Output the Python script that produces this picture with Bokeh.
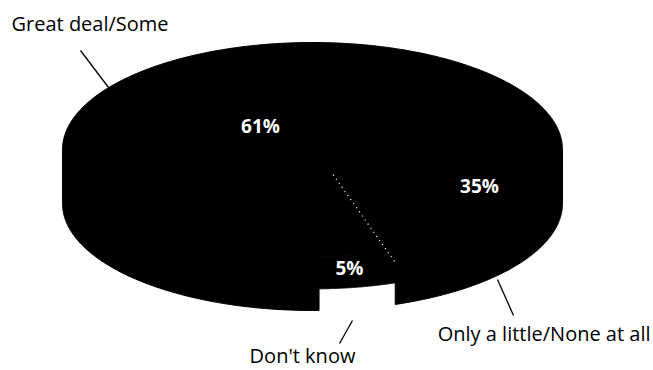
import numpy as np
from bokeh.plotting import figure
from bokeh.models import Range1d
from bokeh.core.properties import value
from bokeh.embed import file_html
from bokeh.resources import INLINE

categories = ["Great deal/Some", "Only a little/None at all", "Don't know"]
values = [61, 35, 5]
pct_labels = ["61%", "35%", "5%"]

# layout (3-D pie: top face ellipse + front wall)
W, H = 653, 370
cx, cy, rx, ry = 312, 149, 250, 107
depth = 54
wall_frac = [1.0, 1.0, 0.6]
start_deg = -88.5     # start of "Don't know" wedge, counter-clockwise
FONT = "Open Sans"

p = figure(width=W, height=H, output_backend="svg", toolbar_location=None,
           x_range=Range1d(0, W), y_range=Range1d(H, 0),
           min_border=0, outline_line_color=None)
p.axis.visible = False
p.grid.visible = False
p.background_fill_color = "white"
p.border_fill_color = "white"


def ex(t):
    return cx + rx * np.cos(t)


def ey(t):
    return cy - ry * np.sin(t)


order = [2, 1, 0]
total = sum(values)
top_xs, top_ys, wall_xs, wall_ys = [], [], [], []
bounds = {}
a = start_deg
for i in order:
    span = values[i] / total * 360.0
    a0, a1 = a, a + span
    bounds[i] = (a0, a1)
    t = np.linspace(a0, a1, 300)
    extra = [k for k in (-180.0, 0.0, 180.0, 360.0) if a0 < k < a1]
    t = np.sort(np.concatenate([t, extra]))
    tr = np.radians(t)
    top_xs.append([cx] + list(ex(tr)))
    top_ys.append([cy] + list(ey(tr)))
    front = tr[np.sin(tr) <= 1e-9]
    if len(front) > 1:
        d = depth * wall_frac[i]
        wx = list(ex(front)) + list(ex(front[::-1]))
        wy = list(ey(front)) + list(ey(front[::-1]) + d)
        wall_xs.append(wx); wall_ys.append(wy)
    a = a1

p.patches(wall_xs, wall_ys, fill_color="black", line_color="black", line_width=1)
p.patches(top_xs, top_ys, fill_color="black", line_color="black", line_width=1)

# faint scan-like boundary between "Only a little" and "Don't know"
tb = np.radians(bounds[1][0])
p.line(x=[cx + 0.25 * rx * np.cos(tb), ex(tb)], y=[cy - 0.25 * ry * np.sin(tb), ey(tb) + 12],
       line_color="white", line_width=1.3, line_dash="1 4")

# percentage labels inside
pct_pos = [(260, 125), (479, 185), (349, 267)]
p.text(x=[q[0] for q in pct_pos], y=[q[1] for q in pct_pos], text=pct_labels,
       text_color="white", text_font=value(FONT), text_font_style="bold",
       text_font_size="19px", text_align="center", text_baseline="middle")

# category labels outside
cat_pos = [(11, 23, "left"), (650, 333, "right"), (302, 355, "center")]
p.text(x=[q[0] for q in cat_pos], y=[q[1] for q in cat_pos], text=categories,
       text_color="black", text_font=value(FONT), text_font_size="20px",
       text_align=[q[2] for q in cat_pos], text_baseline="middle")

# leader lines
p.segment(x0=[80, 497, 352], y0=[50, 279, 320], x1=[108, 513, 339], y1=[87, 315, 343],
          line_color="black", line_width=1.3)

open("out.html", "w").write(file_html(p, INLINE))
